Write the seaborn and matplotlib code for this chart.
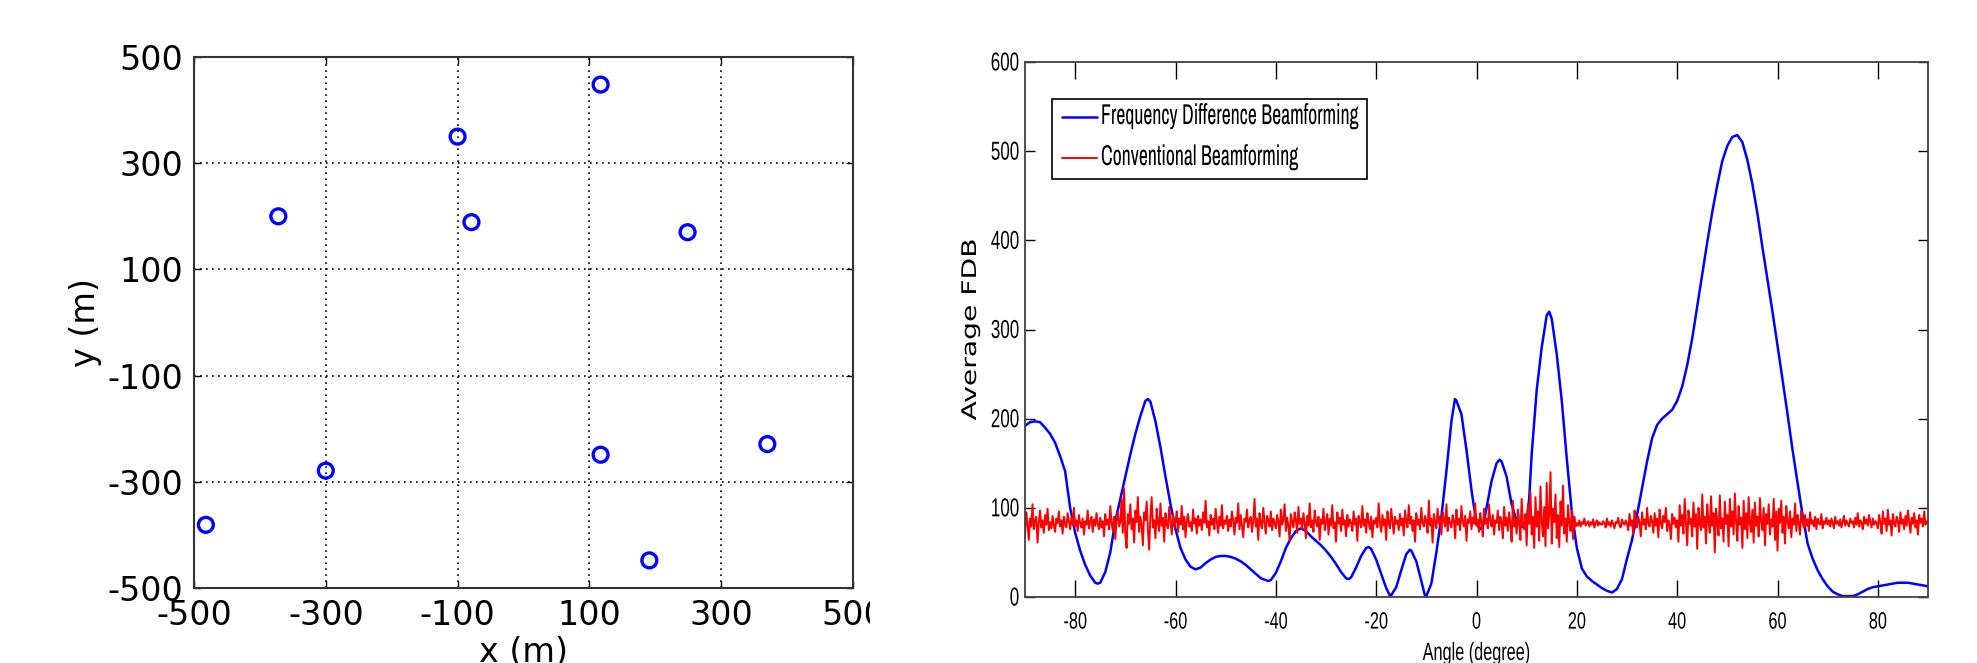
import numpy as np
import matplotlib
matplotlib.use("Agg")
import matplotlib.pyplot as plt
from matplotlib import font_manager as fm
from matplotlib.font_manager import FontProperties
from matplotlib.patheffects import AbstractPathEffect
from matplotlib.transforms import Affine2D, Bbox
import seaborn as sns

sns.set_theme(style="white")
plt.rcParams["font.family"] = ["DejaVu Sans"]
plt.rcParams.update({"text.color": "black", "axes.labelcolor": "black",
                     "xtick.color": "black", "ytick.color": "black",
                     "axes.unicode_minus": False})

# left panel: sensor positions (m)
sensor_x = [117, -100, -372, -79, 249, 370, 117, -300, -482, 191]
sensor_y = [448, 350, 200, 189, 170, -229, -249, -279, -381, -448]
pos_ticks = [-500, -300, -100, 100, 300, 500]

# right panel: frequency difference beamforming output
fdb_angle = [-90, -89, -88, -87, -86, -85, -84, -83, -82, -81, -80, -79, -78, -77, -76, -75.5, -75,
             -74, -73, -72, -71, -70, -69, -68, -67, -66, -65.5, -65, -64, -63, -62, -61, -60,
             -59, -58, -57, -56, -55, -54, -53, -52, -51, -50, -49, -48, -47, -46, -45, -44, -43,
             -42, -41.5, -41, -40, -39, -38, -37, -36, -35, -34, -33, -32, -31, -30, -29, -28, -27,
             -26, -25.5, -25, -24, -23, -22, -21.5, -21, -20, -19, -18, -17.3, -17, -16, -15, -14,
             -13.3, -13, -12, -11, -10.3, -10, -9, -8, -7, -6, -5, -4.3, -4, -3, -2, -1, 0, 0.7,
             1.3, 2, 3, 4, 4.6, 5, 6, 7, 8, 9, 9.7, 10, 10.5, 11, 12, 13, 14, 14.5, 15, 16, 17, 18,
             19, 20, 21, 22, 23, 24, 25, 26, 27, 28, 29, 30, 31, 32, 33, 34, 35, 36, 37, 38, 39, 40,
             41, 42, 43, 44, 45, 46, 47, 48, 49, 50, 51, 52, 53, 54, 55, 56, 57, 58, 59, 60, 61, 62,
             63, 64, 65, 66, 67, 68, 69, 70, 71, 72, 73, 74, 75, 76, 77, 78, 79, 80, 81, 82, 83, 84,
             85, 86, 87, 88, 89, 90]
fdb_value = [192, 196, 197, 196, 190, 183, 173, 158, 141, 100, 72, 52, 36, 24, 16, 15, 16,
             28, 50, 85, 110, 135, 160, 183, 203, 220, 222, 219, 197, 168, 135, 104, 76,
             55, 42, 34, 31, 33, 38, 42, 45, 46, 46, 45, 43, 40, 36, 31, 26, 21,
             19, 18, 19, 27, 40, 55, 66, 74, 77, 74, 68, 63, 58, 52, 45, 37, 28,
             21, 20, 22, 33, 46, 55, 56, 54, 42, 26, 10, 2, 2, 11, 30, 48,
             53, 52, 40, 18, 2, 1, 15, 50, 90, 141, 197, 222, 220, 205, 165, 120, 82, 76,
             80, 100, 130, 150, 154, 152, 135, 104, 85, 79, 78, 85, 110, 160, 232, 280, 316, 320, 312, 272, 220, 155,
             95, 55, 32, 23, 18, 14, 10, 7, 5, 9, 20, 43, 64, 92, 122, 152, 178, 193, 200, 205, 210, 220,
             236, 260, 290, 326, 362, 398, 432, 462, 489, 506, 516, 518, 510, 490, 463, 430, 392, 356, 320, 282, 244, 205,
             165, 128, 92, 60, 43, 30, 20, 12, 6, 3, 1, 1, 1, 3, 6, 9, 11, 12, 13, 14, 15, 16,
             16, 16, 15, 14, 13, 12]

# conventional beamforming output, every 0.25 degree from -90 to 90
cbf_value = [
    70, 95, 82, 64, 88, 79, 104, 76, 85, 90, 61, 83, 97, 78, 86, 72, 92, 81, 99, 75,
    84, 77, 91, 80, 73, 88, 83, 96, 79, 86, 71, 90, 82, 78, 94, 85, 76, 89, 81, 100,
    79, 86, 74, 92, 83, 78, 88, 70, 85, 81, 97, 77, 84, 90, 73, 87, 80, 94, 82, 76,
    89, 78, 85, 68, 93, 81, 87, 76, 102, 83, 74, 90, 65, 86, 95, 79, 84, 110, 72, 122,
    70, 55, 93, 82, 104, 76, 88, 61, 97, 84, 112, 73, 90, 80, 58, 95, 86, 107, 75, 53,
    91, 112, 78, 86, 66, 99, 83, 74, 105, 80, 89, 62, 94, 82, 77, 101, 85, 70, 92, 79,
    84, 96, 73, 88, 81, 102, 76, 90, 67, 86, 93, 79, 84, 74, 98, 82, 88, 71, 91, 80,
    87, 75, 95, 83, 108, 78, 85, 69, 92, 81, 88, 76, 99, 84, 72, 90, 80, 103, 77, 86,
    82, 91, 74, 87, 79, 96, 85, 70, 89, 83, 105, 76, 92, 80, 67, 88, 84, 98, 78, 86,
    90, 73, 85, 110, 79, 88, 64, 94, 82, 77, 100, 84, 71, 91, 86, 79, 96, 75, 88, 83,
    77, 92, 85, 68, 98, 81, 87, 104, 74, 89, 80, 63, 93, 84, 78, 95, 86, 72, 101, 82,
    88, 76, 94, 83, 66, 91, 80, 105, 78, 86, 73, 97, 84, 79, 90, 64, 87, 82, 99, 75,
    85, 93, 70, 88, 80, 103, 77, 84, 62, 95, 82, 89, 74, 98, 81, 86, 68, 92, 79, 87,
    83, 74, 96, 81, 88, 63, 91, 85, 78, 102, 80, 87, 72, 94, 84, 76, 90, 67, 86, 82,
    89, 78, 105, 84, 73, 92, 80, 87, 64, 96, 83, 77, 99, 85, 71, 90, 82, 86, 75, 93,
    80, 88, 69, 97, 84, 78, 103, 82, 90, 74, 86, 62, 94, 81, 87, 76, 100, 83, 79, 91,
    85, 72, 108, 80, 88, 61, 93, 84, 77, 99, 82, 90, 70, 95, 86, 79, 104, 74, 89, 83,
    78, 92, 85, 66, 98, 81, 88, 75, 102, 84, 79, 91, 63, 87, 83, 96, 76, 89, 82, 105,
    80, 87, 73, 94, 84, 68, 99, 82, 88, 77, 104, 85, 79, 92, 70, 86, 83, 97, 75, 90,
    84, 66, 101, 80, 89, 74, 95, 83, 62, 108, 79, 87, 71, 98, 85, 64, 110, 81, 76, 93,
    58, 104, 82, 118, 70, 90, 55, 112, 79, 96, 63, 124, 85, 68, 101, 57, 128, 77, 92, 140,
    60, 99, 84, 115, 66, 92, 56, 107, 80, 125, 71, 88, 62, 103, 83, 74, 97, 65, 90, 79,
    83, 80, 86, 79, 84, 82, 88, 80, 83, 85, 79, 84, 81, 87, 78, 83, 86, 80, 84, 82,
    81, 85, 83, 78, 88, 81, 84, 79, 86, 82, 77, 84, 83, 89, 80, 78, 87, 83, 81, 86,
    82, 75, 93, 80, 86, 70, 97, 84, 78, 90, 83, 68, 95, 81, 87, 76, 100, 82, 79, 91,
    85, 72, 94, 80, 88, 67, 98, 83, 77, 91, 84, 100, 74, 86, 81, 65, 93, 82, 89, 78,
    86, 62, 103, 80, 92, 71, 110, 84, 58, 97, 82, 88, 68, 106, 79, 93, 54, 100, 83, 75,
    115, 78, 90, 60, 104, 85, 72, 113, 80, 94, 50, 99, 83, 69, 114, 77, 88, 62, 107, 82,
    92, 57, 110, 79, 96, 70, 116, 84, 63, 102, 81, 89, 55, 108, 76, 94, 66, 112, 83, 73,
    98, 61, 106, 80, 90, 68, 111, 84, 75, 100, 58, 93, 82, 104, 70, 87, 79, 110, 64, 96,
    52, 99, 83, 108, 72, 90, 60, 102, 85, 77, 96, 67, 88, 81, 105, 74, 92, 83, 70, 97,
    84, 78, 92, 80, 87, 74, 95, 82, 86, 79, 90, 76, 88, 83, 81, 93, 77, 85, 82, 89,
    81, 86, 79, 88, 83, 77, 90, 82, 85, 80, 87, 78, 84, 91, 80, 86, 82, 79, 88, 83,
    85, 78, 89, 81, 94, 79, 86, 83, 76, 90, 82, 87, 80, 92, 84, 78, 88, 81, 85, 83,
    77, 92, 84, 71, 96, 82, 88, 74, 98, 81, 86, 69, 93, 83, 79, 90, 85, 73, 95, 82,
    87, 76, 91, 80, 97, 84, 72, 89, 82, 94, 78, 86, 70, 92, 83, 88, 79, 96, 81, 85,
    84]
cbf_angle = np.linspace(-90, 90, len(cbf_value))

angle_ticks = [-80, -60, -40, -20, 0, 20, 40, 60, 80]
fdb_ticks = [0, 100, 200, 300, 400, 500, 600]
fdb_label = "Frequency Difference Beamforming"
cbf_label = "Conventional Beamforming"


class Squeeze(AbstractPathEffect):
    """Rescale text glyphs (x along the baseline, y from the baseline) to mimic a narrow face."""

    def __init__(self, sx, anchor="center", sy=1.0):
        super().__init__()
        self.sx = sx
        self.sy = sy
        self.anchor = anchor

    def draw_path(self, renderer, gc, tpath, affine, rgbFace=None):
        ext = tpath.get_extents()
        cx = {"left": ext.x0, "right": ext.x1}.get(self.anchor, (ext.x0 + ext.x1) / 2)
        t = Affine2D().translate(-cx, 0).scale(self.sx, self.sy).translate(cx, 0) + affine
        renderer.draw_path(gc, tpath, t, rgbFace)


def find_narrow_font():
    picks = []
    for f in fm.fontManager.ttflist:
        fn = f.fname.lower().replace("-", "").replace("_", "")
        if f.style != "normal" or "dejavu" in fn:
            continue
        if any(k in fn for k in ("bold", "light", "thin", "black", "medium", "italic",
                                 "extra", "semi", "ultra")):
            continue
        if "narrow" in fn:
            picks.append((0, f.fname))
        elif "condensed" in fn:
            picks.append((1, f.fname))
    picks.sort()
    return picks[0][1] if picks else None


W, H = 1977, 663
fig = plt.figure(figsize=(W / 100, H / 100), dpi=100)
ax1 = fig.add_axes([194 / W, 1 - 588 / H, (853 - 194) / W, (588 - 57) / H])
ax2 = fig.add_axes([1025 / W, 1 - 597 / H, (1928 - 1025) / W, (597 - 62) / H])

# ---- left: array layout
sns.scatterplot(x=sensor_x, y=sensor_y, ax=ax1, s=115, facecolors="none",
                edgecolor="blue", linewidth=2.4, zorder=3)
ax1.set_xlim(-500, 500)
ax1.set_ylim(-500, 500)
ax1.set_xticks(pos_ticks)
ax1.set_yticks(pos_ticks)
ax1.grid(True, color="black", linestyle=(0, (1, 2.6)), linewidth=1.2)
ax1.tick_params(direction="in", length=5, width=1, bottom=True, left=True, top=True, right=True,
                labelsize=24, pad=8)
ax1.set_xlabel("x (m)", fontsize=24)
ax1.set_ylabel("y (m)", fontsize=24)
ax1.xaxis.set_label_coords(0.5, (588 - 636) / 531)
ax1.yaxis.set_label_coords((102 - 194) / 659, 0.5)
for s in ax1.spines.values():
    s.set_color("#333333")
    s.set_linewidth(1.5)
# the last x label is cut off in the source figure
lab = ax1.get_xticklabels()[-1]
lab.set_clip_box(Bbox([[0, 0], [870, H]]))
lab.set_clip_on(True)

# ---- right: beamforming output
sns.lineplot(x=fdb_angle, y=fdb_value, ax=ax2, color="blue", lw=1.8,
             label=fdb_label, estimator=None, sort=False)
sns.lineplot(x=cbf_angle, y=cbf_value, ax=ax2, color="red", lw=1.4,
             label=cbf_label, estimator=None, sort=False)
ax2.set_xlim(-90, 90)
ax2.set_ylim(0, 600)
ax2.set_xticks(angle_ticks)
ax2.set_yticks(fdb_ticks)
ax2.tick_params(axis="x", direction="in", length=12, width=1, bottom=True, top=True,
                labelsize=17, pad=10.5, labelfontfamily="Liberation Sans")
ax2.tick_params(axis="y", direction="in", length=7, width=1, left=True, right=True,
                labelsize=17, pad=4, labelfontfamily="Liberation Sans")
for t in ax2.get_xticklabels():
    t.set_path_effects([Squeeze(0.69, "center")])
for t in ax2.get_yticklabels():
    t.set_path_effects([Squeeze(0.72, "right", sy=1.1)])
ax2.set_xlabel("Angle (degree)", fontsize=18, family="Liberation Sans",
               path_effects=[Squeeze(0.65, "center")])
ax2.set_ylabel("Average FDB", fontsize=14.5, path_effects=[Squeeze(1.4, "center")])
ax2.xaxis.set_label_coords(0.5, (597 - 641) / 535)
ax2.yaxis.set_label_coords((980 - 1025) / 903, 0.5)
for s in ax2.spines.values():
    s.set_color("#404040")
    s.set_linewidth(1.3)

# legend font: a narrow face if one is installed, sized so the text spans ~258 px
narrow = find_narrow_font()
leg_fp = FontProperties(fname=narrow) if narrow else FontProperties(family="Liberation Sans")
leg_fp.set_size(15)
renderer = fig.canvas.get_renderer()
probe = fig.text(0, 0, fdb_label, fontproperties=leg_fp)
probe_w = probe.get_window_extent(renderer).width
probe.remove()
leg_size = 15 * 258 / probe_w
leg_fp.set_size(leg_size)
fs_px = leg_size * 100 / 72

leg = ax2.legend(loc="upper left", bbox_to_anchor=((1052 - 1025) / 903, 1 - (99 - 62) / 535),
                 borderaxespad=0, frameon=True, fancybox=False, edgecolor="black", framealpha=1,
                 prop=leg_fp, handlelength=35 / fs_px, handletextpad=4 / fs_px,
                 labelspacing=22 / fs_px, borderpad=10 / fs_px)
leg.get_frame().set_linewidth(1.2)
for t in leg.get_texts():
    t.set_path_effects([Squeeze(1.0, "left", sy=1.45)])

fig.savefig("out.png", dpi=100, facecolor="white")
